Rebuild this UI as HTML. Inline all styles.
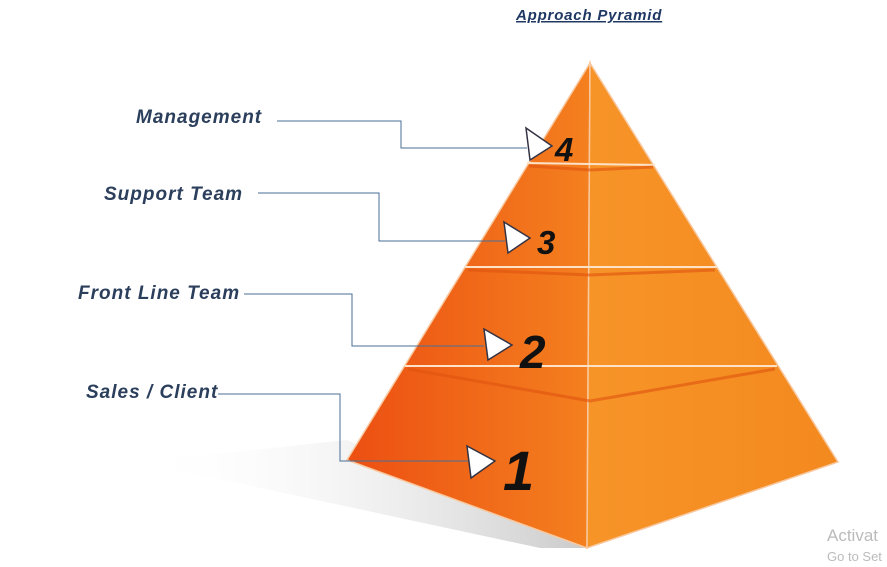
<!DOCTYPE html>
<html><head><meta charset="utf-8"><style>
html,body{margin:0;padding:0;background:#fff;width:887px;height:567px;overflow:hidden;font-family:"Liberation Sans",sans-serif}
</style></head><body>
<svg width="887" height="567" viewBox="0 0 887 567" xmlns="http://www.w3.org/2000/svg">
<defs>
<linearGradient id="sh" x1="1" y1="0" x2="0" y2="0">
<stop offset="0" stop-color="#c4c4c4" stop-opacity="0.9"/><stop offset="1" stop-color="#fff" stop-opacity="0"/>
</linearGradient>
<linearGradient id="lf" x1="0" y1="0" x2="1" y2="0">
<stop offset="0" stop-color="#ec4f12"/><stop offset="1" stop-color="#f4801f"/>
</linearGradient>
<linearGradient id="rf" x1="0" y1="0" x2="1" y2="0">
<stop offset="0" stop-color="#f79428"/><stop offset="1" stop-color="#f3891f"/>
</linearGradient>
</defs>
<polygon points="140,462 347,440 587,548 540,548" fill="url(#sh)"/>
<polygon points="590,63 347,460 587,548" fill="url(#lf)" stroke="#f8c9a0" stroke-width="1.5"/>
<polygon points="590,63 838,462 587,548" fill="url(#rf)" stroke="#f8c9a0" stroke-width="1.5"/>
<g stroke="#fde2c8" stroke-width="2">
<line x1="527" y1="163" x2="655" y2="165"/>
<line x1="465" y1="267" x2="717" y2="267"/>
<line x1="405" y1="366" x2="777" y2="366"/>
</g>
<g stroke="#e0540f" stroke-width="3" opacity="0.6">
<polyline points="529,166 590,170 653,167" fill="none"/>
<polyline points="468,270 590,275 715,270" fill="none"/>
<polyline points="408,369 590,401 775,369" fill="none"/>
</g>
<g fill="none" stroke="#4a6f96" stroke-width="1">
<polyline points="277,121 401,121 401,148 527,148"/>
<polyline points="258,193 379,193 379,241 505,241"/>
<polyline points="244,294 352,294 352,346 484,346"/>
<polyline points="218,394 340,394 340,461 470,461"/>
</g>
<g fill="#fff" stroke="#334" stroke-width="1.5">
<polygon points="526,128 552,146 530,160"/>
<polygon points="504,222 530,238 508,253"/>
<polygon points="484,329 512,345 488,360"/>
<polygon points="467,446 495,461 471,478"/>
</g>
<g font-weight="bold" font-style="italic" fill="#111">
<text x="555" y="161" font-size="33">4</text>
<text x="537" y="254" font-size="33">3</text>
<text x="520" y="368" font-size="46">2</text>
<text x="503" y="490" font-size="56">1</text>
</g>
<g font-weight="bold" font-style="italic" fill="#2b3f5c" font-size="19" letter-spacing="1">
<text x="136" y="123">Management</text>
<text x="104" y="200">Support Team</text>
<text x="78" y="299">Front Line Team</text>
<text x="86" y="398">Sales / Client</text>
</g>
<text x="516" y="20" font-size="15" font-weight="bold" font-style="italic" fill="#1f3864" text-decoration="underline" letter-spacing="0.8">Approach Pyramid</text>
<text x="827" y="541" font-size="17" fill="#bbb">Activat</text>
<text x="827" y="561" font-size="13" fill="#bbb">Go to Set</text>
</svg>
</body></html>
